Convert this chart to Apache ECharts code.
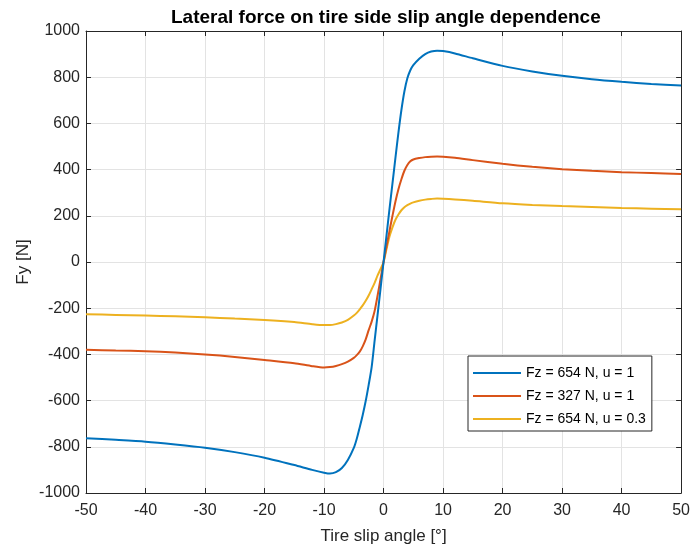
<!DOCTYPE html>
<html>
<head>
<meta charset="utf-8">
<script src="https://cdn.jsdelivr.net/npm/echarts@6/dist/echarts.min.js"></script>
<style>
  html, body { margin: 0; padding: 0; background: #ffffff; }
  #chart { width: 693px; height: 550px; }
</style>
</head>
<body>
<div id="chart"></div>
<script>
// Slip angle samples [deg]
const slipAngle = [-50,-45,-40,-35,-30,-25,-20,-15,-12,-10,-9,-8,-7,-6,-5,-4.5,-4,-3.5,-3,-2.5,-2,-1.5,-1,-0.5,
  0,0.5,1,1.5,2,2.5,3,3.5,4,4.5,5,6,7,8,9,10,12,15,20,25,30,35,40,45,50];

// Lateral force Fy [N] for each tyre case
const fyFz654u1 = [-763,-770,-778,-790,-804,-823,-847,-879,-900,-912,-916,-910,-892,-857,-805,-765,-715,-662,-602,-532,-455,-340,-228,-114,
  0,115,230,340,452,560,658,738,795,830,852,880,900,911,915,913,903,882,849,825,806,791,780,771,764];
const fyFz327u1 = [-380,-383,-386,-392,-400,-411,-424,-438,-451,-457,-455,-450,-442,-431,-415,-403,-388,-365,-335,-295,-258,-212,-145,-72,
  0,68,135,200,262,315,358,395,420,436,444,450,454,456,457,456,451,441,425,412,402,395,389,385,381];
const fyFz654u03 = [-226,-229,-232,-235,-239,-245,-251,-260,-269,-273,-273,-269,-262,-251,-232,-220,-205,-188,-168,-145,-118,-90,-58,-30,
  0,56,110,150,183,206,224,237,246,253,258,265,270,273,275,274,271,265,254,247,242,238,234,231,228];

const seriesNames = ['Fz = 654 N, u = 1', 'Fz = 327 N, u = 1', 'Fz = 654 N, u = 0.3'];
const seriesColors = ['#0072BD', '#D95319', '#EDB120'];
const seriesValues = [fyFz654u1, fyFz327u1, fyFz654u03];

const axisInk = '#262626';
const gridInk = '#e3e3e3';
const font = 'Liberation Sans, Arial, Helvetica, sans-serif';

function pairs(values) {
  return slipAngle.map((a, i) => [a, values[i]]);
}

const chart = echarts.init(document.getElementById('chart'), null, { renderer: 'canvas' });

// top and right edges of the box: ticks only, no labels
const boxAxisCommon = {
  axisLine: { show: true, onZero: false, lineStyle: { color: axisInk, width: 1 } },
  axisTick: { show: true, inside: true, length: 5, lineStyle: { color: axisInk } },
  splitLine: { show: false },
  axisLabel: { show: false }
};

chart.setOption({
  animation: false,
  backgroundColor: '#ffffff',
  title: {
    text: 'Lateral force on tire side slip angle dependence',
    left: 166,
    top: 3,
    textStyle: { fontFamily: font, fontSize: 19, fontWeight: 'bold', color: '#000000' }
  },
  grid: { left: 86, right: 8, top: 31, bottom: 55, containLabel: false },
  legend: {
    orient: 'vertical',
    left: 468,
    top: 356,
    padding: [10, 6, 5, 5],
    itemGap: 9,
    itemWidth: 48,
    itemHeight: 2,
    icon: 'rect',
    backgroundColor: '#ffffff',
    borderColor: axisInk,
    borderWidth: 1,
    borderRadius: 0,
    textStyle: { fontFamily: font, fontSize: 14, color: '#000000' },
    data: seriesNames
  },
  xAxis: [
    {
      type: 'value', min: -50, max: 50, interval: 10, position: 'bottom',
      name: 'Tire slip angle [°]', nameLocation: 'middle', nameGap: 35,
      nameMoveOverlap: false,
      nameTextStyle: { fontFamily: font, fontSize: 17, color: axisInk },
      axisLine: { show: true, onZero: false, lineStyle: { color: axisInk, width: 1 } },
      axisTick: { show: true, inside: true, length: 5, lineStyle: { color: axisInk } },
      axisLabel: { fontFamily: font, fontSize: 16, color: axisInk, margin: 10 },
      splitLine: { show: true, lineStyle: { color: gridInk, width: 1 } }
    },
    Object.assign({ type: 'value', min: -50, max: 50, interval: 10, position: 'top' }, boxAxisCommon)
  ],
  yAxis: [
    {
      type: 'value', min: -1000, max: 1000, interval: 200, position: 'left',
      name: 'Fy [N]', nameLocation: 'middle', nameGap: 54,
      nameMoveOverlap: false,
      nameTextStyle: { fontFamily: font, fontSize: 17, color: axisInk },
      axisLine: { show: true, onZero: false, lineStyle: { color: axisInk, width: 1 } },
      axisTick: { show: true, inside: true, length: 5, lineStyle: { color: axisInk } },
      axisLabel: { fontFamily: font, fontSize: 16, color: axisInk, margin: 6, formatter: v => String(v) },
      splitLine: { show: true, lineStyle: { color: gridInk, width: 1 } }
    },
    Object.assign({ type: 'value', min: -1000, max: 1000, interval: 200, position: 'right' }, boxAxisCommon)
  ],
  series: seriesNames.map((name, k) => ({
    name: name,
    type: 'line',
    xAxisIndex: 0,
    yAxisIndex: 0,
    data: pairs(seriesValues[k]),
    showSymbol: false,
    smooth: 0.25,
    color: seriesColors[k],
    lineStyle: { color: seriesColors[k], width: 2 },
    z: 3 - k
  }))
});
</script>
</body>
</html>
